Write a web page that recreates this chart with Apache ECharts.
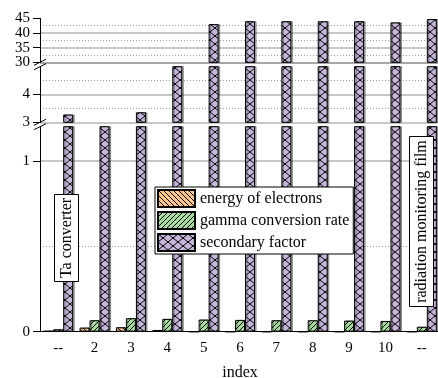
<!DOCTYPE html>
<html><head><meta charset="utf-8">
<script src="https://cdn.jsdelivr.net/npm/echarts@6/dist/echarts.min.js"></script>
<style>html,body{margin:0;padding:0;background:#fff}#c{width:438px;height:378px}</style>
</head><body><div id="c"></div>
<script>
const categories = ['--','2','3','4','5','6','7','8','9','10','--'];
const energyOfElectrons = [0.005, 0.024, 0.026, 0.010, 0, 0, 0, 0, 0, 0, 0];
const gammaConversionRate = [0.014, 0.067, 0.079, 0.075, 0.071, 0.069, 0.067, 0.067, 0.065, 0.063, 0.029];
const secondaryFactor = [3.28, 2.5, 3.36, 6, 43.0, 44.0, 44.0, 44.0, 44.0, 43.6, 44.75];
const seriesNames = ['energy of electrons', 'gamma conversion rate', 'secondary factor'];
// panels (top to bottom): ranges and labelled ticks
const panelRanges = [[30, 45], [3, 5], [0, 1.2]];
const panelLabels = [[30, 35, 40, 45], [3, 4], [0, 1]];
const panelHalfSteps = [2.5, 0.5, 0.5];

const FONT = '"Liberation Serif","DejaVu Serif",serif';
function pat(bg, kind, w, h) {
  const c = document.createElement('canvas'); c.width = w; c.height = h;
  const ctx = c.getContext('2d'); ctx.fillStyle = bg; ctx.fillRect(0, 0, w, h);
  ctx.strokeStyle = '#000'; ctx.lineWidth = 1; ctx.beginPath();
  for (const k of [-w, 0, w]) {
    if (kind.indexOf('b') >= 0) { ctx.moveTo(k, 0); ctx.lineTo(k + w, h); }
    if (kind.indexOf('f') >= 0) { ctx.moveTo(k, h); ctx.lineTo(k + w, 0); }
  }
  ctx.stroke();
  return { image: c, repeat: 'repeat' };
}
const fills = [pat('#fbc48e', 'b', 5, 5), pat('#a6da9e', 'f', 5, 5), pat('#c6b6da', 'bf', 10, 8)];
const dataSets = [energyOfElectrons, gammaConversionRate, secondaryFactor];

const gridDefs = [
  { left: 40, right: -2, top: 18.3, height: 44, outerBoundsMode: 'none', containLabel: false },
  { left: 40, right: -2, top: 66.7, height: 55.6, outerBoundsMode: 'none', containLabel: false },
  { left: 40, right: -2, top: 126.7, height: 205, outerBoundsMode: 'none', containLabel: false }
];
const T = 'rgba(0,0,0,0)', G = '#b4b4b4', D = '#9a9a9a';
const solidColors = [[ '#8a8a8a', T, G, T, G, T, T], [G, T, G, T, T], [T, T, G, T]];
const dotColors = [[T, D, T, D, T, D, T], [T, D, T, D, T], [T, D, T, T]];

const xAxes = [], yAxes = [], series = [];
for (let g = 0; g < 3; g++) {
  xAxes.push({ gridIndex: g, type: 'category', data: categories, show: g === 2, position: 'bottom',
    axisLine: { lineStyle: { color: '#000', width: 1 } },
    axisTick: { length: 5, lineStyle: { color: '#000' } },
    axisLabel: { fontFamily: FONT, fontSize: 15, color: '#000', margin: 9 },
    name: g === 2 ? 'index' : '', nameLocation: 'middle', nameGap: 33,
    nameTextStyle: { fontFamily: FONT, fontSize: 16, color: '#000' } });
}
for (let g = 0; g < 3; g++) {
  const [mn, mx] = panelRanges[g];
  const labels = panelLabels[g];
  const labelsEven = labels.filter((_, i) => i % 2 === 0);
  const labelsOdd = labels.filter((_, i) => i % 2 === 1);
  const base = yAxes.length;
  yAxes.push({ gridIndex: g, type: 'value', position: 'left', min: mn, max: mx, interval: panelHalfSteps[g],
    axisLine: { show: true, lineStyle: { color: '#000', width: 1 } }, axisTick: { show: false }, axisLabel: { show: false },
    splitLine: { show: true, showMaxLine: false, lineStyle: { color: solidColors[g], width: 1.5, type: 'solid' } } });
  yAxes.push({ gridIndex: g, type: 'value', position: 'left', min: mn, max: mx, interval: panelHalfSteps[g],
    axisLine: { show: false }, axisTick: { show: false }, axisLabel: { show: false },
    splitLine: { show: true, showMaxLine: false, lineStyle: { color: dotColors[g], width: 1, type: [1, 2] } } });
  for (const [grp, withTicks] of [[labelsEven, true], [labelsOdd, false]]) {
    if (!grp.length) continue;
    yAxes.push({ gridIndex: g, type: 'value', position: 'left', min: mn, max: mx, interval: panelHalfSteps[g] * 2,
      axisLine: { show: false }, splitLine: { show: false },
      axisTick: { show: withTicks, length: 7, customValues: labels, lineStyle: { color: '#000' } },
      axisLabel: { show: true, customValues: grp, showMinLabel: true, showMaxLabel: true,
        fontFamily: FONT, fontSize: 15, color: '#000', margin: 10,
        formatter: v => grp.indexOf(v) >= 0 ? String(v) : '' } });
  }
  for (let s = 0; s < 3; s++) {
    series.push({ type: 'bar', name: seriesNames[s], xAxisIndex: g, yAxisIndex: base, data: dataSets[s],
      barWidth: 10, barGap: '0%', clip: true,
      itemStyle: { color: fills[s], borderColor: '#000', borderWidth: 1,
        shadowColor: 'rgba(0,0,0,0.35)', shadowOffsetX: 1.5, shadowOffsetY: 0, shadowBlur: 0 } });
  }
}
// center ticks on bottom axis
xAxes.push({ gridIndex: 2, type: 'category', data: categories, position: 'bottom',
  axisLine: { show: false }, axisLabel: { show: false },
  axisTick: { alignWithLabel: true, length: 4, lineStyle: { color: '#000' } } });

function slash(x, y) {
  return { type: 'line', shape: { x1: x - 6, y1: y + 3, x2: x + 6, y2: y - 3 }, style: { stroke: '#000', lineWidth: 1 }, z: 100 };
}
const graphics = [
  slash(40, 62.3), slash(40, 66.7), slash(40, 122.3), slash(40, 126.7),
  { type: 'rect', shape: { x: 54.5, y: 194.5, width: 24, height: 87 }, style: { fill: '#fff', stroke: '#000', lineWidth: 1 }, z: 100 },
  { type: 'text', x: 66.5, y: 238, rotation: Math.PI / 2, z: 101,
    style: { text: 'Ta converter', fill: '#000', font: '16px ' + FONT, align: 'center', verticalAlign: 'middle' } },
  { type: 'rect', shape: { x: 409.5, y: 136.5, width: 24, height: 170 }, style: { fill: '#fff', stroke: '#000', lineWidth: 1 }, z: 100 },
  { type: 'text', x: 421.5, y: 221.5, rotation: Math.PI / 2, z: 101,
    style: { text: 'radiation monitoring film', fill: '#000', font: '16px ' + FONT, align: 'center', verticalAlign: 'middle' } }
];

const chart = echarts.init(document.getElementById('c'), null, { renderer: 'canvas' });
chart.setOption({
  animation: false,
  backgroundColor: '#fff',
  grid: gridDefs,
  xAxis: xAxes,
  yAxis: yAxes,
  legend: { data: seriesNames, orient: 'vertical', left: 155, top: 187, icon: 'rect',
    itemWidth: 37, itemHeight: 17, itemGap: 3, padding: [2, 4, 2, 2],
    backgroundColor: '#fff', borderColor: '#000', borderWidth: 1,
    textStyle: { fontFamily: FONT, fontSize: 16, color: '#000' }, z: 50 },
  series: series,
  graphic: graphics
});
</script></body></html>
